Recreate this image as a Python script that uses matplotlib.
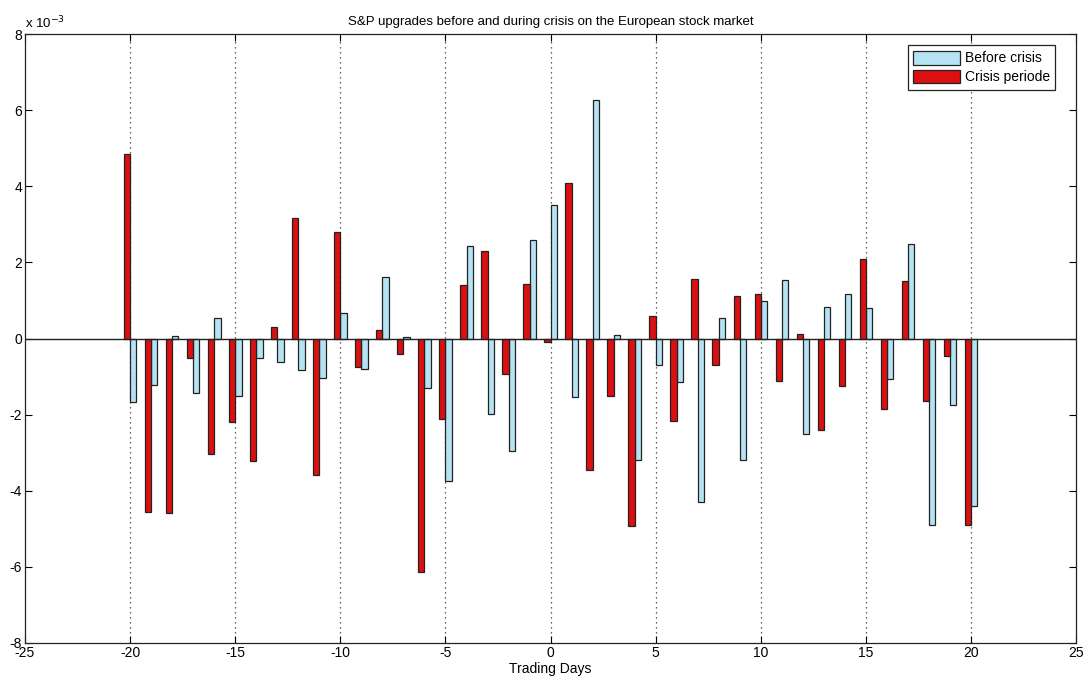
import numpy as np
import matplotlib.pyplot as plt

plt.rcParams['font.family'] = ['Liberation Sans', 'DejaVu Sans']
plt.rcParams['axes.unicode_minus'] = False

# Trading days around the upgrade announcement
days = np.arange(-20, 21)

# Average abnormal returns, in units of 1e-3
crisis = [4.84, -4.56, -4.60, -0.51, -3.04, -2.20, -3.22, 0.31, 3.18, -3.58,
          2.81, -0.74, 0.22, -0.40, -6.15, -2.11, 1.41, 2.30, -0.93, 1.43,
          -0.09, 4.08, -3.45, -1.52, -4.93, 0.58, -2.17, 1.56, -0.69, 1.11,
          1.17, -1.11, 0.13, -2.40, -1.24, 2.09, -1.86, 1.51, -1.63, -0.46,
          -4.90]
before = [-1.67, -1.23, 0.06, -1.43, 0.54, -1.51, -0.50, -0.62, -0.83, -1.03,
          0.67, -0.79, 1.62, 0.03, -1.30, -3.74, 2.44, -1.99, -2.95, 2.60,
          3.52, -1.54, 6.28, 0.10, -3.20, -0.69, -1.13, -4.30, 0.55, -3.20,
          0.98, 1.54, -2.52, 0.83, 1.17, 0.80, -1.07, 2.48, -4.90, -1.74,
          -4.40]

fig = plt.figure(figsize=(10.86, 6.86), dpi=100)
ax = fig.add_axes([0.023, 0.063, 0.968, 0.887])

w = 0.3
ax.bar(days + w / 2, before, width=w, color='#b5e3f3', edgecolor='#222222',
       linewidth=0.9, label='Before crisis', zorder=3)
ax.bar(days - w / 2, crisis, width=w, color='#dc1010', edgecolor='#222222',
       linewidth=0.9, label='Crisis periode', zorder=3)
ax.axhline(0, color='#222222', linewidth=1.0, zorder=4)

ax.set_xlim(-25, 25)
ax.set_ylim(-8, 8)
ax.set_xticks(np.arange(-25, 26, 5))
ax.set_yticks(np.arange(-8, 9, 2))

# dotted grid only at the inner x ticks
for xv in range(-20, 21, 5):
    ax.axvline(xv, color='#333333', linestyle=(0, (1, 3)), linewidth=0.9, zorder=1)

ax.tick_params(direction='in', top=True, right=True, length=5, width=0.8,
               labelsize=10, pad=2)
for s in ax.spines.values():
    s.set_linewidth(0.9)
    s.set_color('#222222')

ax.set_title('S&P upgrades before and during crisis on the European stock market',
             fontsize=9.5, pad=7)
ax.set_xlabel('Trading Days', fontsize=10, labelpad=2)
ax.text(0.0, 1.005, 'x 10$^{-3}$', transform=ax.transAxes, fontsize=9.5,
        ha='left', va='bottom')

leg = ax.legend(loc='upper right', bbox_to_anchor=(1 - 21 / 1051, 1 - 11 / 609),
                fontsize=10, fancybox=False, framealpha=1,
                edgecolor='#222222', handlelength=3.4, handleheight=1.15,
                labelspacing=0.3, borderpad=0.4, handletextpad=0.3,
                borderaxespad=0)
leg.get_frame().set_linewidth(0.9)

fig.savefig('out.png', dpi=100)
